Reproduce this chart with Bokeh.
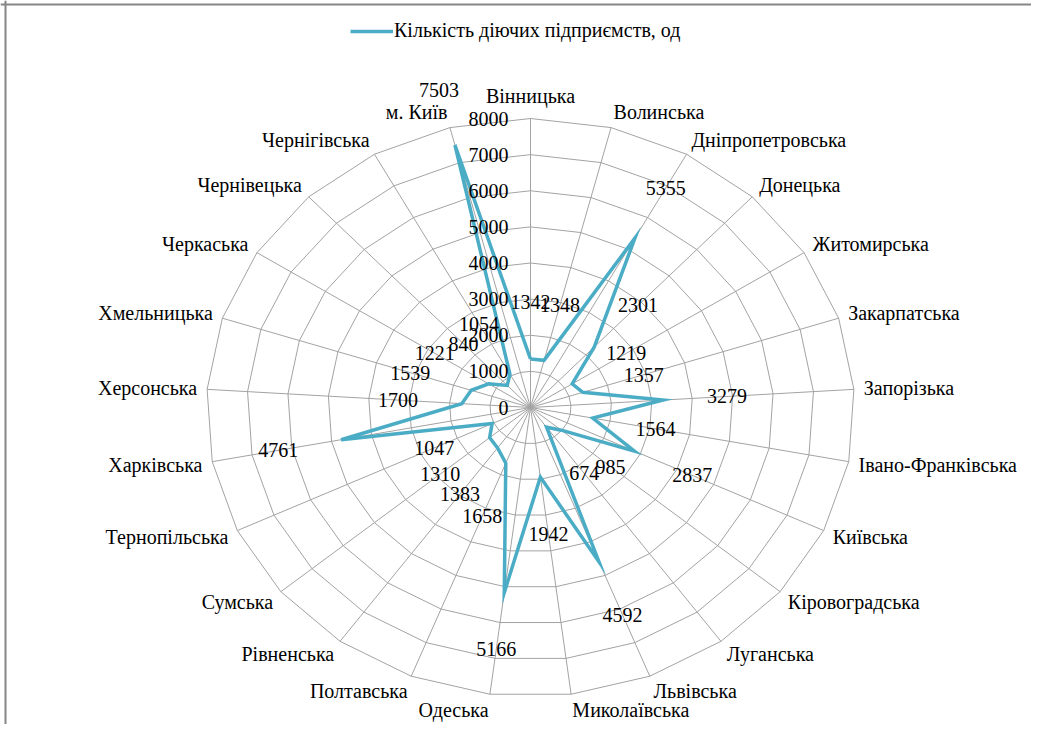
import math
from bokeh.plotting import figure
from bokeh.models import Range1d, Span, Legend, LegendItem, ColumnDataSource
from bokeh.core.properties import value
from bokeh.embed import file_html
from bokeh.resources import INLINE

categories = ["Вінницька", "Волинська", "Дніпропетровська", "Донецька", "Житомирська",
              "Закарпатська", "Запорізька", "Івано-Франківська", "Київська", "Кіровоградська",
              "Луганська", "Львівська", "Миколаївська", "Одеська", "Полтавська",
              "Рівненська", "Сумська", "Тернопільська", "Харківська", "Херсонська",
              "Хмельницька", "Черкаська", "Чернівецька", "Чернігівська", "м. Київ"]
values = [1342, 1348, 5355, 2301, 1219, 1357, 3279, 1564, 2837, 985,
          674, 4592, 1942, 5166, 1658, 1383, 1310, 1047, 4761, 1700,
          1539, 1221, 840, 1054, 7503]
tick_values = [0, 1000, 2000, 3000, 4000, 5000, 6000, 7000, 8000]
tick_labels = ["0", "1000", "2000", "3000", "4000", "5000", "6000", "7000", "8000"]
series_name = "Кількість діючих підприємств, од"

W, H = 1031, 724
RMAX = tick_values[-1]
KX = 324 / RMAX      # px per unit horizontally
KY = 289 / RMAX      # px per unit vertically
CX, CY = 530, 407    # centre in frame px (from left / top)

FONT_NAME = "Liberation Serif"
FONT = value(FONT_NAME)
FS = "20px"
GRID = "#a3a3a3"
LINE = "#4bacc6"

p = figure(width=W, height=H, output_backend="svg", toolbar_location=None,
           x_range=Range1d(-CX / KX, (W - CX) / KX),
           y_range=Range1d(-(H - CY) / KY, CY / KY),
           min_border=0, outline_line_color=None)
p.axis.visible = False
p.grid.visible = False
p.background_fill_color = "white"

n = len(categories)
ang = [2 * math.pi * i / n for i in range(n)]
sn = [math.sin(a) for a in ang]
cs = [math.cos(a) for a in ang]

# rings
ring_xs, ring_ys = [], []
for t in tick_values[1:]:
    ring_xs.append([t * s for s in sn] + [t * sn[0]])
    ring_ys.append([t * c for c in cs] + [t * cs[0]])
p.multi_line(ring_xs, ring_ys, line_color=GRID, line_width=1)

# spokes
p.segment(x0=[0] * n, y0=[0] * n, x1=[RMAX * s for s in sn], y1=[RMAX * c for c in cs],
          line_color=GRID, line_width=1)

# data line
lx = [v * s for v, s in zip(values, sn)] + [values[0] * sn[0]]
ly = [v * c for v, c in zip(values, cs)] + [values[0] * cs[0]]
line_r = p.line(lx, ly, line_color=LINE, line_width=3.5, line_join="miter")

# axis tick labels
p.text(x=[-22 / KX] * len(tick_values), y=tick_values, text=tick_labels,
       text_align="right", text_baseline="middle", text_font=FONT,
       text_font_size=FS, text_color="black")

# data labels
LOFF = 1580
p.text(x=[(v + LOFF) * s for v, s in zip(values, sn)],
       y=[(v + LOFF) * c for v, c in zip(values, cs)],
       text=[str(v) for v in values],
       text_align="center", text_baseline="middle", text_font=FONT,
       text_font_size=FS, text_color="black")

# category labels
cx, cy, al = [], [], []
for s, c in zip(sn, cs):
    dx = 10 * s
    dy = 16 * c + (7 if abs(s) < 0.01 else 0)
    cx.append(RMAX * s + dx / KX)
    cy.append(RMAX * c + dy / KY)
    al.append("left" if s > 0.01 else ("right" if s < -0.01 else "center"))
src = ColumnDataSource(dict(x=cx, y=cy, t=categories, a=al))
p.text(x="x", y="y", text="t", text_align="a", source=src, text_baseline="middle",
       text_font=FONT, text_font_size=FS, text_color="black")

# border (top and left, as in the cropped original)
p.add_layout(Span(location=p.y_range.end - 4 / KY, dimension="width",
                  line_color="#868686", line_width=2))
p.add_layout(Span(location=p.x_range.start + 5 / KX, dimension="height",
                  line_color="#868686", line_width=2))

legend = Legend(items=[LegendItem(label=series_name, renderers=[line_r])],
                location=(350, H - 42), padding=0, margin=0, spacing=0,
                glyph_width=43, glyph_height=20, label_standoff=1,
                label_text_font=FONT_NAME, label_text_font_size=FS,
                label_text_color="black", border_line_color=None,
                background_fill_alpha=0)
p.add_layout(legend)

open("out.html", "w").write(file_html(p, INLINE))
